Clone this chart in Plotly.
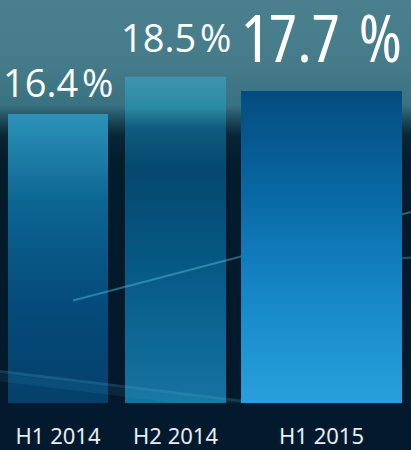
import plotly.graph_objects as go

# ---- data ----
categories = ["H1 2014", "H2 2014", "H1 2015"]
values = [16.4, 18.5, 17.7]
value_labels = ["16.4\u200a%", "18.5\u200a%", "17.7 \u200a%"]

# ---- layout helpers (positions / styles) ----
bar_left = [8, 125, 241]
bar_width = [100, 101, 161]
label_sizes = [38, 38, 66]
label_stretch = ["90%", "90%", "87.5%"]
label_yshift = [4, 12, 8]
bar_colorscales = [
    [[0, "#053f6b"], [0.35, "#044b7b"], [0.7, "#0c6591"], [1, "#2c92b8"]],
    [[0, "#1674a2"], [0.45, "#055884"], [0.72, "#04486f"], [0.85, "#0f5b7e"], [0.91, "#2b8aa3"], [1, "#3e94ae"]],
    [[0, "#2aa1dd"], [0.35, "#1688c8"], [0.68, "#0868a4"], [1, "#044c7f"]],
]
Y_MAX = 22.86
X_MAX = 411

bg_scale = [
    [0.0, "#03192c"], [0.39, "#021a2c"], [0.609, "#031d2d"], [0.670, "#082636"],
    [0.707, "#1d4a5a"], [0.743, "#3a7282"], [0.853, "#467c8a"], [1.0, "#4b7f8e"],
]

# decorative light streaks (x, y in axis units)
streaks = [
    ([73, 411], [5.81, 10.84], "rgba(90,190,220,0.45)", 2),
    ([290, 411], [7.70, 8.25], "rgba(90,190,220,0.35)", 2),
    ([0, 411], [1.79, -1.07], "rgba(80,180,215,0.22)", 3),
    ([0, 411], [1.45, -1.4], "rgba(80,180,215,0.10)", 8),
]

fig = go.Figure()

# background gradient
fig.add_trace(go.Scatter(
    x=[0, 0, X_MAX, X_MAX], y=[0, Y_MAX, Y_MAX, 0], mode="none", fill="toself",
    fillgradient=dict(type="vertical", colorscale=bg_scale, start=0, stop=Y_MAX),
    hoverinfo="skip", showlegend=False,
))

def add_bar(i):
    x0 = bar_left[i]
    x1 = bar_left[i] + bar_width[i]
    v = values[i]
    fig.add_trace(go.Scatter(
        x=[x0, x0, x1, x1], y=[0, v, v, 0], mode="none", fill="toself",
        fillgradient=dict(type="vertical", colorscale=bar_colorscales[i], start=0, stop=v),
        hoverinfo="skip", showlegend=False,
    ))

add_bar(0)
add_bar(1)
for sx, sy, col, w in streaks:
    fig.add_trace(go.Scatter(x=sx, y=sy, mode="lines", line=dict(color=col, width=w),
                             hoverinfo="skip", showlegend=False))
add_bar(2)

centers = [bar_left[i] + bar_width[i] / 2 for i in range(3)]
for i in range(3):
    fig.add_annotation(
        x=centers[i], y=values[i],
        text='<span style="font-stretch:' + label_stretch[i] + '">' + value_labels[i] + "</span>",
        showarrow=False,
        xanchor="center", yanchor="bottom", yshift=label_yshift[i],
        font=dict(family="Open Sans, Noto Sans, sans-serif", size=label_sizes[i], color="#ffffff"),
    )

fig.update_layout(
    width=411, height=450,
    margin=dict(l=0, r=0, t=0, b=41),
    paper_bgcolor="#031a2e", plot_bgcolor="#031a2e",
    xaxis=dict(range=[0, X_MAX], showgrid=False, zeroline=False, showline=False,
               tickvals=centers, ticktext=categories, ticks="outside", ticklen=14,
               tickcolor="rgba(0,0,0,0)",
               tickfont=dict(family="Noto Sans, sans-serif", size=22, color="#e8eef2"),
               fixedrange=True),
    yaxis=dict(range=[0, Y_MAX], showgrid=False, zeroline=False, showline=False,
               showticklabels=False, fixedrange=True),
    showlegend=False,
)

fig.write_html("out.html", config={"displayModeBar": False})
